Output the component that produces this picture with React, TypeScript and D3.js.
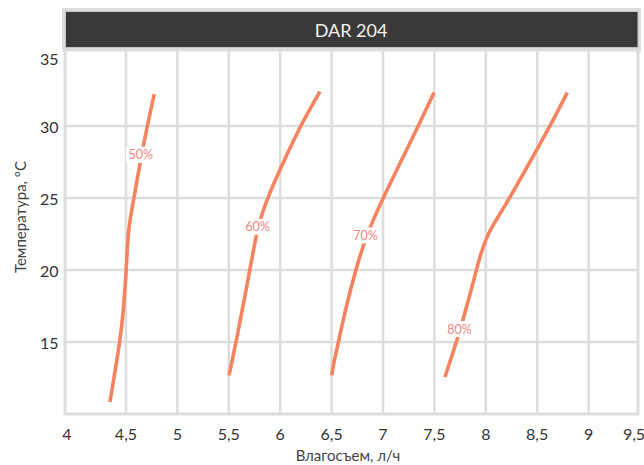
import * as d3 from 'd3';

// humidity curves: moisture removal (l/h) vs temperature (°C)
const seriesNames = ['50%', '60%', '70%', '80%'];

const temp50 = [10.83, 14.93, 16.97, 20.0, 21.6, 23.2, 25.08, 27.98, 30.0, 32.22];
const rate50 = [4.344, 4.44, 4.474, 4.503, 4.513, 4.53, 4.58, 4.65, 4.707, 4.775];

const temp60 = [12.68, 14.93, 20.0, 23.07, 25.04, 26.7, 30.0, 32.39];
const rate60 = [5.502, 5.57, 5.706, 5.78, 5.88, 5.98, 6.193, 6.387];

const temp70 = [12.68, 13.73, 14.93, 17.43, 20.0, 22.49, 25.04, 27.4, 30.0, 32.32];
const rate70 = [6.501, 6.526, 6.565, 6.64, 6.734, 6.84, 7.003, 7.165, 7.343, 7.496];

const temp80 = [12.57, 14.93, 15.93, 20.0, 20.91, 22.54, 23.69, 25.04, 28.33, 30.0, 32.32];
const rate80 = [7.603, 7.71, 7.756, 7.91, 7.94, 8.02, 8.12, 8.235, 8.495, 8.625, 8.793];

// where the percentage tags sit, in data units
const tagRate = [4.645, 5.78, 6.83, 7.745];
const tagTemp = [28.0, 23.0, 22.4, 15.9];

const xTicks = [4, 4.5, 5, 5.5, 6, 6.5, 7, 7.5, 8, 8.5, 9, 9.5];
const yTicks = [15, 20, 25, 30, 35];

const title = 'DAR 204';
const xTitle = 'Влагосъем, л/ч';
const yTitle = 'Температура, °C';

const W = 644;
const H = 465;
const FONT = 'Lato, "Open Sans", sans-serif';
const LINE = '#f5835f';
const TAG = '#f28583';
const GRID = '#dddddd';

export default function App() {
  const left = 65;
  const right = 640;
  const top = 50;
  const bottom = 414;

  const x = d3.scaleLinear().domain([3.907, 9.5]).range([left, right]);
  const y = d3.scaleLinear().domain([10, 35.28]).range([bottom, top]);

  const series = [
    { t: temp50, r: rate50 },
    { t: temp60, r: rate60 },
    { t: temp70, r: rate70 },
    { t: temp80, r: rate80 },
  ];

  const line = d3
    .line<[number, number]>()
    .x(d => x(d[0]))
    .y(d => y(d[1]))
    .curve(d3.curveBasis);

  return (
    <svg width={W} height={H} style={{ position: 'absolute', left: 0, top: 0 }}>
      <rect x={0} y={0} width={W} height={H} fill="#fff" />

      {/* title bar */}
      <rect x={62} y={8} width={579} height={44} fill="#dcdcdc" />
      <rect x={65.5} y={11.5} width={572.5} height={36} fill="#393939" stroke="#c4c4c4" strokeWidth={1} />
      <text
        x={351}
        y={30}
        fill="#f2f2f2"
        fontFamily={FONT}
        fontSize={18}
        textAnchor="middle"
        dominantBaseline="central"
      >
        {title}
      </text>

      {/* plot area */}
      <rect x={left} y={top} width={right - left - 2} height={bottom - top} fill="#fff" />

      {/* grid */}
      {xTicks.filter(v => v > 4 && v < 9.5).map(v => (
        <line key={'gx' + v} x1={x(v)} x2={x(v)} y1={top} y2={bottom} stroke={GRID} strokeWidth={2.5} />
      ))}
      {yTicks.filter(v => v < 35).map(v => (
        <line key={'gy' + v} x1={left} x2={right - 2} y1={y(v)} y2={y(v)} stroke={GRID} strokeWidth={2.5} />
      ))}
      <rect
        x={left}
        y={top}
        width={right - left - 2}
        height={bottom - top}
        fill="none"
        stroke={GRID}
        strokeWidth={3}
      />

      {/* tick labels */}
      {xTicks.map((v, i) => (
        <text
          key={'xl' + v}
          x={i === 0 ? left + 2 : Math.min(x(v), 634)}
          y={433}
          fill="#333"
          fontFamily={FONT}
          fontSize={16}
          textAnchor="middle"
          dominantBaseline="central"
        >
          {String(v).replace('.', ',')}
        </text>
      ))}
      {yTicks.map(v => (
        <text
          key={'yl' + v}
          x={58.5}
          y={Math.max(y(v), 58.5)}
          fill="#333"
          fontFamily={FONT}
          fontSize={16}
          textAnchor="end"
          dominantBaseline="central"
        >
          {v}
        </text>
      ))}

      {/* axis titles */}
      <text
        x={348}
        y={455}
        fill="#444"
        fontFamily={FONT}
        fontSize={15}
        textAnchor="middle"
        dominantBaseline="central"
      >
        {xTitle}
      </text>
      <text
        transform={`translate(20,217) rotate(-90)`}
        fill="#444"
        fontFamily={FONT}
        fontSize={15}
        textAnchor="middle"
        dominantBaseline="central"
      >
        {yTitle}
      </text>

      {/* curves */}
      {series.map((s, i) => (
        <path
          key={'c' + i}
          d={line(s.r.map((r, j) => [r, s.t[j]] as [number, number])) || ''}
          fill="none"
          stroke={LINE}
          strokeWidth={3.6}
        />
      ))}

      {/* tags */}
      {seriesNames.map((n, i) => (
        <g key={'t' + n} transform={`translate(${x(tagRate[i])},${y(tagTemp[i])})`}>
          <rect x={-15} y={-8} width={30} height={16} fill="#fff" />
          <text
            fill={TAG}
            fontFamily={FONT}
            fontSize={12.5}
            textAnchor="middle"
            dominantBaseline="central"
          >
            {n}
          </text>
        </g>
      ))}
    </svg>
  );
}
